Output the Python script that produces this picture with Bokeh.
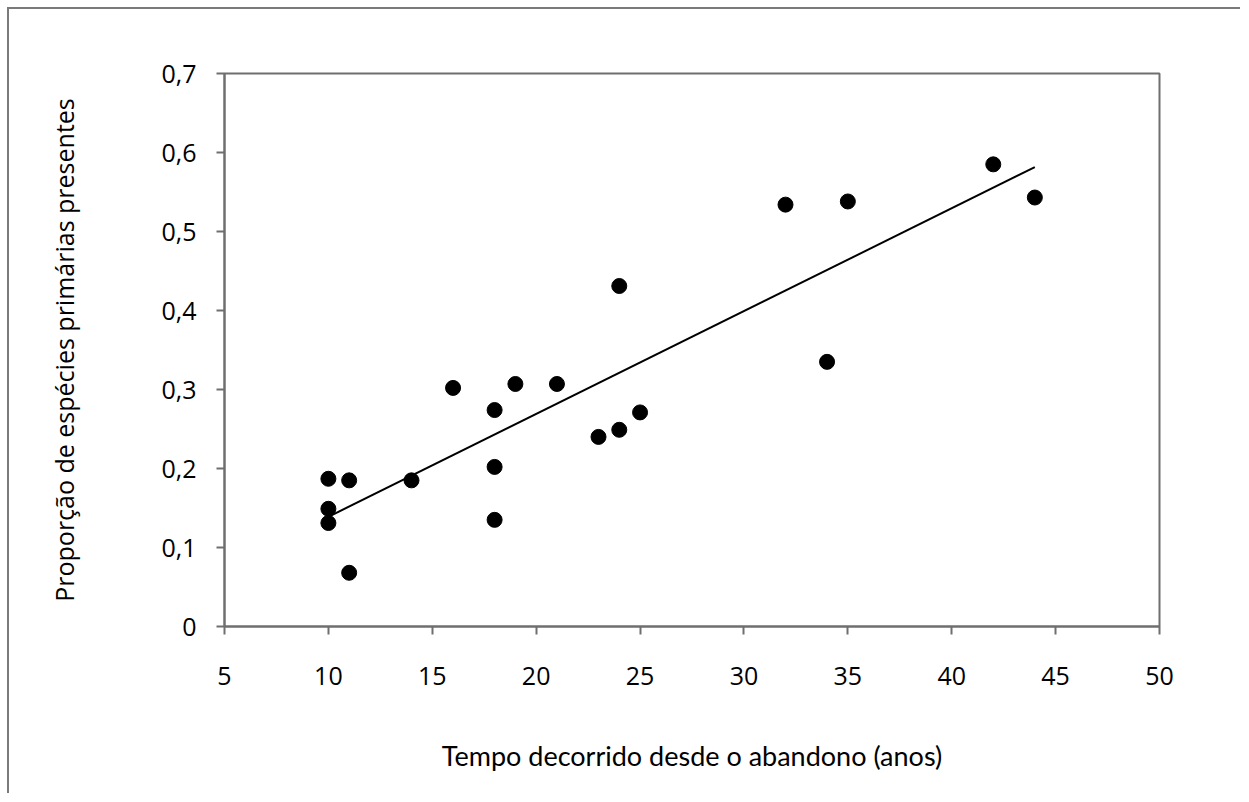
import numpy as np
from bokeh.plotting import figure
from bokeh.models import Range1d, FixedTicker
from bokeh.embed import file_html
from bokeh.resources import INLINE

# Data
anos = [10, 10, 10, 11, 11, 14, 16, 18, 18, 18, 19, 21, 23, 24, 24, 25, 32, 34, 35, 42, 44]
proporcao = [0.187, 0.149, 0.131, 0.185, 0.068, 0.185, 0.302, 0.274, 0.202, 0.135, 0.307,
             0.307, 0.240, 0.431, 0.249, 0.271, 0.534, 0.335, 0.538, 0.585, 0.543]

x_ticks = [5, 10, 15, 20, 25, 30, 35, 40, 45, 50]
y_ticks = [0, 0.1, 0.2, 0.3, 0.4, 0.5, 0.6, 0.7]
y_tick_labels = ["0", "0,1", "0,2", "0,3", "0,4", "0,5", "0,6", "0,7"]

x_title = "Tempo decorrido desde o abandono (anos)"
y_title = "Proporção de espécies primárias presentes"

# Linear fit
slope, intercept = np.polyfit(anos, proporcao, 1)
fit_x = [min(anos), max(anos)]
fit_y = [intercept + slope * v for v in fit_x]

p = figure(width=1233, height=786, output_backend="svg", toolbar_location=None,
           x_range=Range1d(5, 50), y_range=Range1d(0, 0.7),
           min_border_left=215, min_border_right=83, min_border_top=64, min_border_bottom=169)

p.styles = {"border-top": "2px solid #7a7a7a", "border-left": "2px solid #7a7a7a",
            "margin-left": "7px", "margin-top": "7px"}

p.xgrid.visible = False
p.ygrid.visible = False
p.background_fill_color = "white"
p.border_fill_color = "white"
p.outline_line_color = "#6f6f6f"
p.outline_line_width = 2
p.outline_line_alpha = 1

p.line(fit_x, fit_y, line_color="black", line_width=2)
p.scatter(anos, proporcao, size=15, fill_color="black", line_color="black")

for ax in (p.xaxis[0], p.yaxis[0]):
    ax.axis_line_color = "#6f6f6f"
    ax.axis_line_width = 2
    ax.major_tick_line_color = "#6f6f6f"
    ax.major_tick_line_width = 2
    ax.major_tick_out = 8
    ax.major_tick_in = 0
    ax.minor_tick_line_color = None
    ax.major_label_text_font = "Open Sans"
    ax.major_label_text_font_size = "25px"
    ax.major_label_text_color = "black"
    ax.axis_label_text_color = "black"
    ax.axis_label_text_font_style = "normal"

p.xaxis.ticker = FixedTicker(ticks=x_ticks)
p.yaxis.ticker = FixedTicker(ticks=y_ticks)
p.yaxis.major_label_overrides = {t: l for t, l in zip(y_ticks, y_tick_labels)}
p.xaxis.major_label_standoff = 32
p.yaxis.major_label_standoff = 20

p.xaxis.axis_label = x_title
p.xaxis.axis_label_text_font = "Lato"
p.xaxis.axis_label_text_font_size = "27px"
p.xaxis.axis_label_standoff = 51
p.yaxis.axis_label = y_title
p.yaxis.axis_label_text_font = "Open Sans"
p.yaxis.axis_label_text_font_size = "25px"
p.yaxis.axis_label_standoff = 77

open("out.html", "w").write(file_html(p, INLINE))
